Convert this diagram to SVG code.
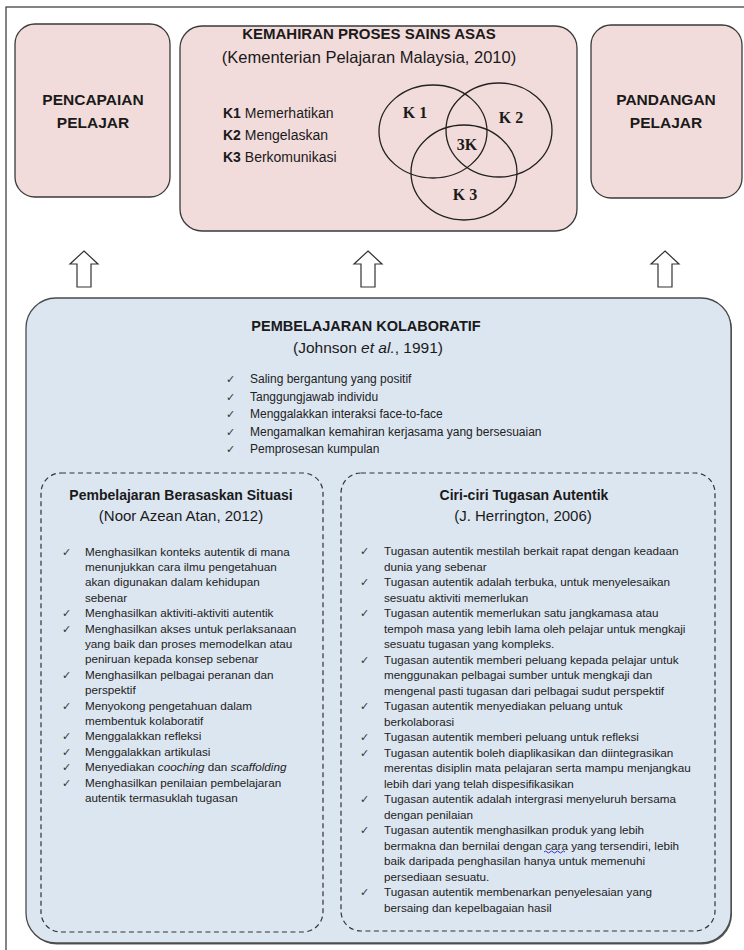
<svg xmlns="http://www.w3.org/2000/svg" width="744" height="950" viewBox="0 0 744 950">
<style>
.frame{fill:#ffffff;stroke:#333333;stroke-width:1.2}
.pink{fill:#f2dcdb;stroke:#3a3a3a;stroke-width:1.3}
.blue{fill:#dce6f1;stroke:#4a4a4a;stroke-width:1.3}
.shadow{fill:#5a5a5a}
.dash{fill:none;stroke:#333333;stroke-width:1.2;stroke-dasharray:5 3.5}
.venn{fill:none;stroke:#222222;stroke-width:1.3}
.arrow{fill:#ffffff;stroke:#333333;stroke-width:1.2;stroke-linejoin:miter}
text{font-family:"Liberation Sans",Arial,sans-serif;fill:#1a1a1a}
.hb{font-size:15.5px;font-weight:bold;text-anchor:middle}
.h1{font-size:15px;font-weight:bold;text-anchor:middle}
.sub{font-size:16.5px;text-anchor:middle}
.klist{font-size:14px}
.vl{font-family:"Liberation Serif","Times New Roman",serif;font-size:16px;font-weight:bold;text-anchor:middle}
.h2{font-size:14px;font-weight:bold;text-anchor:middle}
.sub2{font-size:15px;text-anchor:middle}
.top{font-size:12px;fill:#222}
.li{font-size:11.7px;fill:#222}
.ck{font-family:"DejaVu Sans",sans-serif;font-size:11px;fill:#333}
</style>

<rect class="frame" x="6" y="7" width="745" height="955"/>

<g id="node-pencapaian">
<rect class="pink" x="15" y="24" width="155" height="173" rx="20"/>
<text class="hb" x="93" y="105">PENCAPAIAN</text>
<text class="hb" x="93" y="127.5">PELAJAR</text>
</g>

<g id="node-kemahiran">
<rect class="pink" x="180" y="26" width="397" height="205" rx="22"/>
<text class="h1" x="369" y="39">KEMAHIRAN PROSES SAINS ASAS</text>
<text class="sub" x="369" y="63">(Kementerian Pelajaran Malaysia, 2010)</text>
<text class="klist" x="223" y="118"><tspan font-weight="bold">K1</tspan> Memerhatikan</text>
<text class="klist" x="223" y="140"><tspan font-weight="bold">K2</tspan> Mengelaskan</text>
<text class="klist" x="223" y="162"><tspan font-weight="bold">K3</tspan> Berkomunikasi</text>
<ellipse class="venn" cx="433" cy="131.5" rx="54" ry="46.5"/>
<ellipse class="venn" cx="499" cy="130" rx="53" ry="47"/>
<ellipse class="venn" cx="464" cy="172.5" rx="53" ry="47.5"/>
<text class="vl" x="415" y="118">K 1</text>
<text class="vl" x="511" y="123">K 2</text>
<text class="vl" x="467" y="150">3K</text>
<text class="vl" x="465" y="200">K 3</text>
</g>

<g id="node-pandangan">
<rect class="pink" x="591" y="25" width="151" height="173" rx="20"/>
<text class="hb" x="666" y="105">PANDANGAN</text>
<text class="hb" x="666" y="127.5">PELAJAR</text>
</g>

<g id="connectors">
<path class="arrow" d="M84,251 L98,264 L91,264 L91,287 L77,287 L77,264 L70,264 Z"/>
<path class="arrow" d="M368,251 L382,264 L375,264 L375,287 L361,287 L361,264 L354,264 Z"/>
<path class="arrow" d="M665,251 L679,264 L672,264 L672,287 L658,287 L658,264 L651,264 Z"/>
</g>

<g id="node-kolaboratif">
<rect class="shadow" x="27" y="299.5" width="705" height="645" rx="30"/>
<rect class="blue" x="26" y="298" width="705" height="645" rx="30"/>
<text class="h2" x="366" y="331" style="font-size:14.5px">PEMBELAJARAN KOLABORATIF</text>
<text class="sub2" x="368" y="353" style="font-size:15.5px">(Johnson <tspan font-style="italic">et al.</tspan>, 1991)</text>
<text class="ck" x="226" y="383">✓</text><text class="top" x="250" y="383">Saling bergantung yang positif</text>
<text class="ck" x="226" y="400.5">✓</text><text class="top" x="250" y="400.5">Tanggungjawab individu</text>
<text class="ck" x="226" y="418">✓</text><text class="top" x="250" y="418">Menggalakkan interaksi face-to-face</text>
<text class="ck" x="226" y="435.5">✓</text><text class="top" x="250" y="435.5">Mengamalkan kemahiran kerjasama yang bersesuaian</text>
<text class="ck" x="226" y="453">✓</text><text class="top" x="250" y="453">Pemprosesan kumpulan</text>
</g>

<g id="node-situasi">
<rect class="dash" x="41" y="473" width="282" height="459" rx="20"/>
<text class="h2" x="181" y="500">Pembelajaran Berasaskan Situasi</text>
<text class="sub2" x="181" y="521">(Noor Azean Atan, 2012)</text>
<text class="ck" x="62" y="555.5">✓</text><text class="li" x="85" y="555.5">Menghasilkan konteks autentik di mana</text>
<text class="li" x="85" y="570.9">menunjukkan cara ilmu pengetahuan</text>
<text class="li" x="85" y="586.3">akan digunakan dalam kehidupan</text>
<text class="li" x="85" y="601.7">sebenar</text>
<text class="ck" x="62" y="617.1">✓</text><text class="li" x="85" y="617.1">Menghasilkan aktiviti-aktiviti autentik</text>
<text class="ck" x="62" y="632.5">✓</text><text class="li" x="85" y="632.5">Menghasilkan akses untuk perlaksanaan</text>
<text class="li" x="85" y="647.9">yang baik dan proses memodelkan atau</text>
<text class="li" x="85" y="663.3">peniruan kepada konsep sebenar</text>
<text class="ck" x="62" y="678.7">✓</text><text class="li" x="85" y="678.7">Menghasilkan pelbagai peranan dan</text>
<text class="li" x="85" y="694.1">perspektif</text>
<text class="ck" x="62" y="709.5">✓</text><text class="li" x="85" y="709.5">Menyokong pengetahuan dalam</text>
<text class="li" x="85" y="724.9">membentuk kolaboratif</text>
<text class="ck" x="62" y="740.3">✓</text><text class="li" x="85" y="740.3">Menggalakkan refleksi</text>
<text class="ck" x="62" y="755.7">✓</text><text class="li" x="85" y="755.7">Menggalakkan artikulasi</text>
<text class="ck" x="62" y="771.1">✓</text><text class="li" x="85" y="771.1">Menyediakan <tspan font-style="italic">cooching</tspan> dan <tspan font-style="italic">scaffolding</tspan></text>
<text class="ck" x="62" y="786.5">✓</text><text class="li" x="85" y="786.5">Menghasilkan penilaian pembelajaran</text>
<text class="li" x="85" y="801.9">autentik termasuklah tugasan</text>
</g>

<g id="node-tugasan">
<rect class="dash" x="341" y="473" width="374" height="458" rx="20"/>
<text class="h2" x="524" y="500">Ciri-ciri Tugasan Autentik</text>
<text class="sub2" x="523" y="521">(J. Herrington, 2006)</text>
<text class="ck" x="360" y="555">✓</text><text class="li" x="384" y="555">Tugasan autentik mestilah berkait rapat dengan keadaan</text>
<text class="li" x="384" y="570.5">dunia yang sebenar</text>
<text class="ck" x="360" y="586">✓</text><text class="li" x="384" y="586">Tugasan autentik adalah terbuka, untuk menyelesaikan</text>
<text class="li" x="384" y="601.5">sesuatu aktiviti memerlukan</text>
<text class="ck" x="360" y="617">✓</text><text class="li" x="384" y="617">Tugasan autentik memerlukan satu jangkamasa atau</text>
<text class="li" x="384" y="632.5">tempoh masa yang lebih lama oleh pelajar untuk mengkaji</text>
<text class="li" x="384" y="648">sesuatu tugasan yang kompleks.</text>
<text class="ck" x="360" y="663.5">✓</text><text class="li" x="384" y="663.5">Tugasan autentik memberi peluang kepada pelajar untuk</text>
<text class="li" x="384" y="679">menggunakan pelbagai sumber untuk mengkaji dan</text>
<text class="li" x="384" y="694.5">mengenal pasti tugasan dari pelbagai sudut perspektif</text>
<text class="ck" x="360" y="710">✓</text><text class="li" x="384" y="710">Tugasan autentik menyediakan peluang untuk</text>
<text class="li" x="384" y="725.5">berkolaborasi</text>
<text class="ck" x="360" y="741">✓</text><text class="li" x="384" y="741">Tugasan autentik memberi peluang untuk refleksi</text>
<text class="ck" x="360" y="756.5">✓</text><text class="li" x="384" y="756.5">Tugasan autentik boleh diaplikasikan dan diintegrasikan</text>
<text class="li" x="384" y="772">merentas disiplin mata pelajaran serta mampu menjangkau</text>
<text class="li" x="384" y="787.5">lebih dari yang telah dispesifikasikan</text>
<text class="ck" x="360" y="803">✓</text><text class="li" x="384" y="803">Tugasan autentik adalah intergrasi menyeluruh bersama</text>
<text class="li" x="384" y="818.5">dengan penilaian</text>
<text class="ck" x="360" y="834">✓</text><text class="li" x="384" y="834">Tugasan autentik menghasilkan produk yang lebih</text>
<text class="li" x="384" y="849.5">bermakna dan bernilai dengan cara yang tersendiri, lebih</text>
<path d="M544,852 q1.5,-2 3,0 t3,0 t3,0 t3,0 t3,0 t3,0 t3,0" fill="none" stroke="#3333cc" stroke-width="1"/>
<text class="li" x="384" y="865">baik daripada penghasilan hanya untuk memenuhi</text>
<text class="li" x="384" y="880.5">persediaan sesuatu.</text>
<text class="ck" x="360" y="896">✓</text><text class="li" x="384" y="896">Tugasan autentik membenarkan penyelesaian yang</text>
<text class="li" x="384" y="911.5">bersaing dan kepelbagaian hasil</text>
</g>
</svg>
